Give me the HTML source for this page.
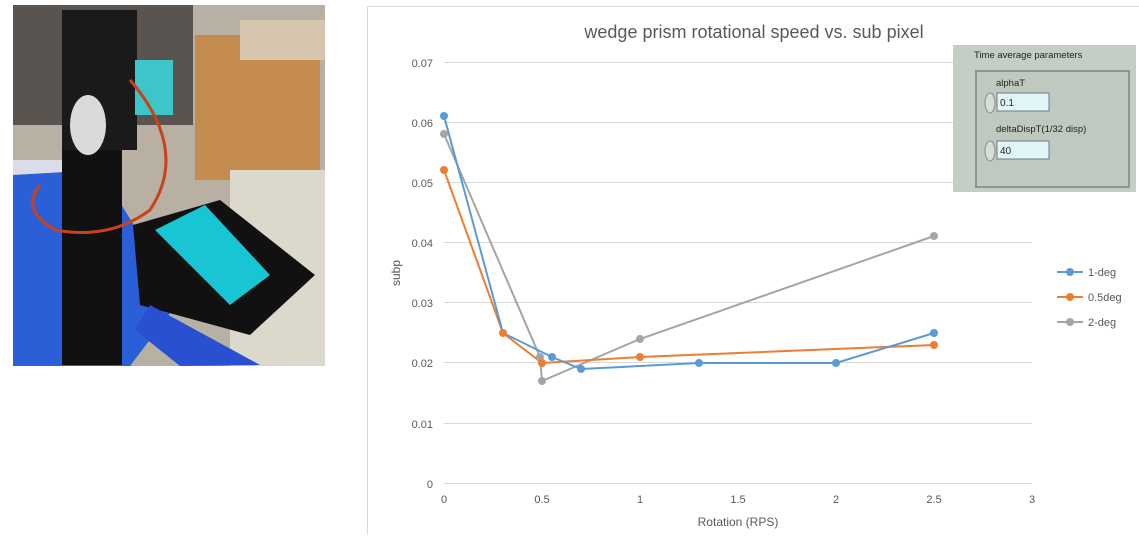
<!DOCTYPE html><html><head><style>body{margin:0;width:1139px;height:535px;background:#fff;overflow:hidden;font-family:"Liberation Sans",sans-serif}</style></head><body>
<svg width="1139" height="535" xmlns="http://www.w3.org/2000/svg" font-family="Liberation Sans, sans-serif">
<rect x="13" y="5" width="312" height="361" fill="#b9b0a4"/>
<rect x="13" y="5" width="180" height="120" fill="#5a5450"/>
<rect x="195" y="35" width="125" height="145" fill="#c48c4e"/>
<rect x="240" y="20" width="85" height="40" fill="#d8c5ae"/>
<rect x="230" y="170" width="95" height="196" fill="#ddd8cc"/>
<rect x="13" y="160" width="60" height="120" fill="#dcdce8"/>
<polygon points="13,175 100,170 180,300 130,366 13,366" fill="#2a5fd8"/>
<rect x="62" y="10" width="75" height="140" fill="#1a1a1a"/>
<rect x="135" y="60" width="38" height="55" fill="#3cc6c9"/>
<rect x="62" y="150" width="60" height="215" fill="#111"/>
<ellipse cx="88" cy="125" rx="18" ry="30" fill="#d8dadc"/>
<path d="M130,80 Q190,150 150,210 Q110,240 55,230 Q20,210 40,185" stroke="#c9421a" stroke-width="3" fill="none"/>
<polygon points="133,225 220,200 315,275 250,335 140,305" fill="#111"/>
<polygon points="155,230 205,205 270,275 230,305" fill="#18c5d2"/>
<polygon points="150,305 260,365 180,366 135,330" fill="#2850d0"/>
<rect x="367.5" y="6.5" width="780" height="540" fill="#fff" stroke="#d9d9d9"/>
<text x="754" y="38" font-size="18" fill="#595959" text-anchor="middle">wedge prism rotational speed vs. sub pixel</text>
<g stroke="#d9d9d9" stroke-width="1">
<line x1="444" x2="1032" y1="62.5" y2="62.5"/><line x1="444" x2="1032" y1="122.5" y2="122.5"/><line x1="444" x2="1032" y1="182.5" y2="182.5"/><line x1="444" x2="1032" y1="242.5" y2="242.5"/><line x1="444" x2="1032" y1="302.5" y2="302.5"/><line x1="444" x2="1032" y1="362.5" y2="362.5"/><line x1="444" x2="1032" y1="423.5" y2="423.5"/><line x1="444" x2="1032" y1="483.5" y2="483.5"/>
</g>
<g font-size="11" fill="#595959" text-anchor="end">
<text x="433" y="67">0.07</text><text x="433" y="127">0.06</text><text x="433" y="187">0.05</text><text x="433" y="247">0.04</text><text x="433" y="307">0.03</text><text x="433" y="367">0.02</text><text x="433" y="428">0.01</text><text x="433" y="488">0</text>
</g>
<g font-size="11" fill="#595959" text-anchor="middle">
<text x="444" y="503">0</text><text x="542" y="503">0.5</text><text x="640" y="503">1</text><text x="738" y="503">1.5</text><text x="836" y="503">2</text><text x="934" y="503">2.5</text><text x="1032" y="503">3</text>
</g>
<text x="738" y="526" font-size="12" fill="#595959" text-anchor="middle">Rotation (RPS)</text>
<text x="400" y="273" font-size="12" fill="#595959" text-anchor="middle" transform="rotate(-90 400 273)">subp</text>
<g fill="none" stroke-width="2">
<polyline stroke="#a5a5a5" points="444,134 540,357 542,381 640,339 934,236"/>
<polyline stroke="#ed7d31" points="444,170 503,333 542,363 640,357 934,345"/>
<polyline stroke="#5b9bd5" points="444,116 503,333 552,357 581,369 699,363 836,363 934,333"/>
</g>
<g fill="#a5a5a5"><circle cx="444" cy="134" r="4"/><circle cx="540" cy="357" r="4"/><circle cx="542" cy="381" r="4"/><circle cx="640" cy="339" r="4"/><circle cx="934" cy="236" r="4"/></g>
<g fill="#ed7d31"><circle cx="444" cy="170" r="4"/><circle cx="503" cy="333" r="4"/><circle cx="542" cy="363" r="4"/><circle cx="640" cy="357" r="4"/><circle cx="934" cy="345" r="4"/></g>
<g fill="#5b9bd5"><circle cx="444" cy="116" r="4"/><circle cx="552" cy="357" r="4"/><circle cx="581" cy="369" r="4"/><circle cx="699" cy="363" r="4"/><circle cx="836" cy="363" r="4"/><circle cx="934" cy="333" r="4"/></g>
<g font-size="11" fill="#595959">
<line x1="1057" x2="1083" y1="272" y2="272" stroke="#5b9bd5" stroke-width="2"/><circle cx="1070" cy="272" r="4" fill="#5b9bd5"/><text x="1088" y="276">1-deg</text>
<line x1="1057" x2="1083" y1="297" y2="297" stroke="#ed7d31" stroke-width="2"/><circle cx="1070" cy="297" r="4" fill="#ed7d31"/><text x="1088" y="301">0.5deg</text>
<line x1="1057" x2="1083" y1="322" y2="322" stroke="#a5a5a5" stroke-width="2"/><circle cx="1070" cy="322" r="4" fill="#a5a5a5"/><text x="1088" y="326">2-deg</text>
</g>
<rect x="953" y="45" width="183" height="147" fill="#c4cec4"/>
<text x="974" y="58" font-size="9.5" fill="#222">Time average parameters</text>
<rect x="976" y="71" width="153" height="116" fill="#bfc9bf" stroke="#8d968d" stroke-width="2"/>
<text x="996" y="86" font-size="9.5" fill="#222">alphaT</text>
<ellipse cx="990" cy="103" rx="5" ry="10" fill="#d6dcd6" stroke="#888"/>
<rect x="997" y="93" width="52" height="18" fill="#dff6f6" stroke="#778"/>
<text x="1000" y="106" font-size="10" fill="#222">0.1</text>
<text x="996" y="132" font-size="9.5" fill="#222">deltaDispT(1/32 disp)</text>
<ellipse cx="990" cy="151" rx="5" ry="10" fill="#d6dcd6" stroke="#888"/>
<rect x="997" y="141" width="52" height="18" fill="#dff6f6" stroke="#778"/>
<text x="1000" y="154" font-size="10" fill="#222">40</text>
</svg>
</body></html>
